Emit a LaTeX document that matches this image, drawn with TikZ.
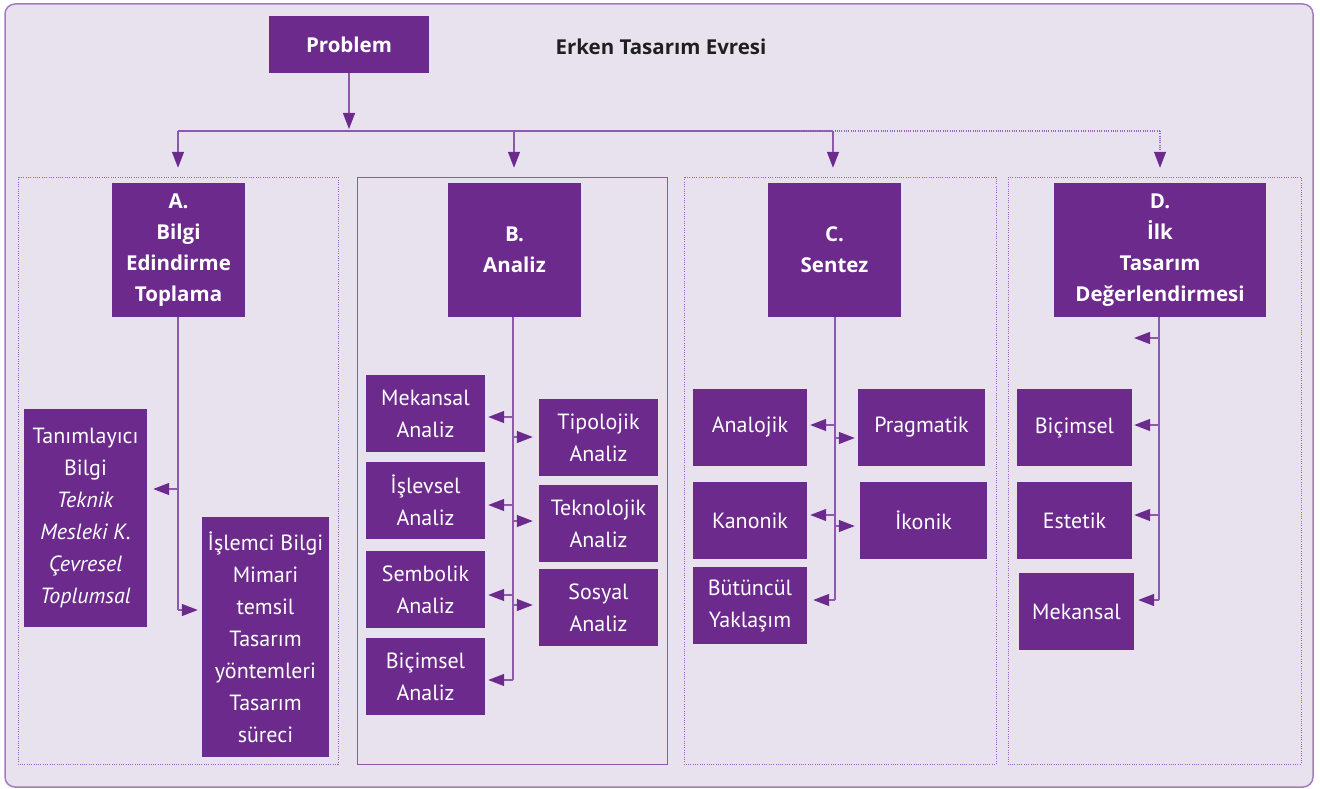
\documentclass[tikz,border=0pt]{standalone}
\usepackage{fontspec}
\setmainfont{PT Sans}
\newfontfamily\hfont{Open Sans}
\usetikzlibrary{arrows.meta}
\definecolor{boxfill}{HTML}{6C2B8C}
\definecolor{bgfill}{HTML}{E8E2EF}
\definecolor{linec}{HTML}{8E58B0}
\definecolor{framec}{HTML}{A27CC2}
\definecolor{dotc}{HTML}{9A62BE}
\tikzset{
  x=1pt, y=-1pt,
  box/.style={fill=boxfill, text=white, inner sep=0pt, align=center, font=\fontsize{22}{32}\selectfont},
  hbox/.style={box, minimum width=133pt, minimum height=134pt, font=\hfont\bfseries\fontsize{20.5}{31}\selectfont},
  sbox/.style={box, minimum height=77pt},
  conn/.style={draw=linec, line width=1.3pt},
  arr/.style={conn, arrows={-{Triangle[length=16pt,width=12pt,color=boxfill]}}},
  dotln/.style={draw=dotc, line width=0.9pt, dash pattern=on 0.9pt off 1.4pt},
}
\begin{document}
\begin{tikzpicture}
\useasboundingbox (0,0) rectangle (1320,789);
\fill[white] (0,0) rectangle (1320,789);
\draw[fill=bgfill, draw=framec, line width=1.5pt, rounded corners=10pt] (5,4) rectangle (1313,787);

% section frames
\draw[dotln] (18,177) rectangle (338,764);
\draw[draw=linec, line width=1pt] (357,177) rectangle (667,764);
\draw[dotln] (684,177) rectangle (996,764);
\draw[dotln] (1008,177) rectangle (1301,764);

% top
\node[box, minimum width=160pt, minimum height=57pt, font=\hfont\bfseries\fontsize{20.5}{24}\selectfont] (prob) at (349,44.5) {Problem};
\node[font=\hfont\bfseries\fontsize{20.5}{24}\selectfont, text=black!88] (title) at (661,47) {Erken Tasarım Evresi};

% headers
\node[hbox] (hA) at (178.5,250) {A.\\Bilgi\\Edindirme\\Toplama};
\node[hbox] (hB) at (514.5,250) {B.\\Analiz};
\node[hbox] (hC) at (834.5,250) {C.\\Sentez};
\node[hbox, minimum width=212pt] (hD) at (1160,250) {D.\\İlk\\Tasarım\\Değerlendirmesi};

% A
\node[box, minimum width=123pt, minimum height=218pt] (tan) at (85.5,518) {Tanımlayıcı\\Bilgi\\\textit{Teknik}\\\textit{Mesleki K.}\\\textit{Çevresel}\\\textit{Toplumsal}};
\node[box, minimum width=127pt, minimum height=240pt] (isl) at (265.5,637) {İşlemci Bilgi\\Mimari\\temsil\\Tasarım\\yöntemleri\\Tasarım\\süreci};

% B
\node[sbox, minimum width=119pt] (mek) at (425.5,413.5) {Mekansal\\Analiz};
\node[sbox, minimum width=119pt] (isv) at (425.5,500.5) {İşlevsel\\Analiz};
\node[sbox, minimum width=119pt] (sem) at (425.5,589.5) {Sembolik\\Analiz};
\node[sbox, minimum width=119pt] (bic) at (425.5,676.5) {Biçimsel\\Analiz};
\node[sbox, minimum width=119pt] (tip) at (598.5,437.5) {Tipolojik\\Analiz};
\node[sbox, minimum width=119pt] (tek) at (598.5,523.5) {Teknolojik\\Analiz};
\node[sbox, minimum width=119pt] (sos) at (598.5,607.5) {Sosyal\\Analiz};

% C
\node[sbox, minimum width=114pt] (ana) at (750,427.5) {Analojik};
\node[sbox, minimum width=114pt] (kan) at (750,520.5) {Kanonik};
\node[sbox, minimum width=114pt] (but) at (750,605.5) {Bütüncül\\Yaklaşım};
\node[sbox, minimum width=127pt] (pra) at (921.5,427.5) {Pragmatik};
\node[sbox, minimum width=127pt] (iko) at (923.5,520.5) {İkonik};

% D
\node[sbox, minimum width=115pt] (dbi) at (1074.5,427.5) {Biçimsel};
\node[sbox, minimum width=115pt] (des) at (1074.5,520.5) {Estetik};
\node[sbox, minimum width=115pt] (dme) at (1076.5,611.5) {Mekansal};

% top connectors
\coordinate (top) at (349,131);
\coordinate (jA) at (178,131);
\coordinate (jB) at (514,131);
\coordinate (jC) at (833,131);
\coordinate (jS) at (800,131);
\coordinate (jD) at (1160,131);
\draw[arr, shorten >=2pt] (prob.south) -- (top);
\draw[conn] (jA) -- (jS);
\draw[conn] (jS) -- (jC);
\draw[dotln, line width=1.1pt] (jS) -- (jD);
\draw[arr, shorten >=15pt] (jA) -- (jA |- hA.north);
\draw[arr, shorten >=15pt] (jB) -- (jB |- hB.north);
\draw[arr, shorten >=15pt] (jC) -- (jC |- hC.north);
\draw[dotln, line width=1.1pt, arrows={-{Triangle[length=16pt,width=12pt,color=boxfill]}}, shorten >=15pt] (jD) -- (jD |- hD.north);

% A trunk
\coordinate (aEnd) at (178,610);
\draw[conn] (hA.south -| aEnd) -- (aEnd);
\draw[arr, shorten >=6pt] (178,489) -- (tan.east |- 0,489);
\draw[arr, shorten >=4pt] (aEnd) -- (isl.west |- aEnd);

% B trunk
\coordinate (bEnd) at (513,680);
\draw[conn] (hB.south -| bEnd) -- (bEnd);
\draw[arr, shorten >=3pt] (513,417) -- (mek.east |- 0,417);
\draw[arr, shorten >=3pt] (513,505) -- (isv.east |- 0,505);
\draw[arr, shorten >=3pt] (513,595) -- (sem.east |- 0,595);
\draw[arr, shorten >=3pt] (bEnd) -- (bic.east |- bEnd);
\draw[arr, shorten >=6pt] (513,437) -- (tip.west |- 0,437);
\draw[arr, shorten >=6pt] (513,521) -- (tek.west |- 0,521);
\draw[arr, shorten >=6pt] (513,605) -- (sos.west |- 0,605);

% C trunk
\coordinate (cEnd) at (835,600);
\draw[conn] (hC.south -| cEnd) -- (cEnd);
\draw[arr, shorten >=3pt] (835,425) -- (ana.east |- 0,425);
\draw[arr, shorten >=3pt] (835,515) -- (kan.east |- 0,515);
\draw[arr, shorten >=6pt] (cEnd) -- (but.east |- cEnd);
\draw[arr, shorten >=3pt] (835,438) -- (pra.west |- 0,438);
\draw[arr, shorten >=5pt] (835,526) -- (iko.west |- 0,526);

% D trunk
\coordinate (dEnd) at (1159,600);
\coordinate (dFree) at (1134,338);
\draw[conn] (hD.south -| dEnd) -- (dEnd);
\draw[arr] (1159,338) -- (dFree);
\draw[arr, shorten >=2pt] (1159,425) -- (dbi.east |- 0,425);
\draw[arr, shorten >=2pt] (1159,515) -- (des.east |- 0,515);
\draw[arr, shorten >=4pt] (dEnd) -- (dme.east |- dEnd);
\end{tikzpicture}
\end{document}
